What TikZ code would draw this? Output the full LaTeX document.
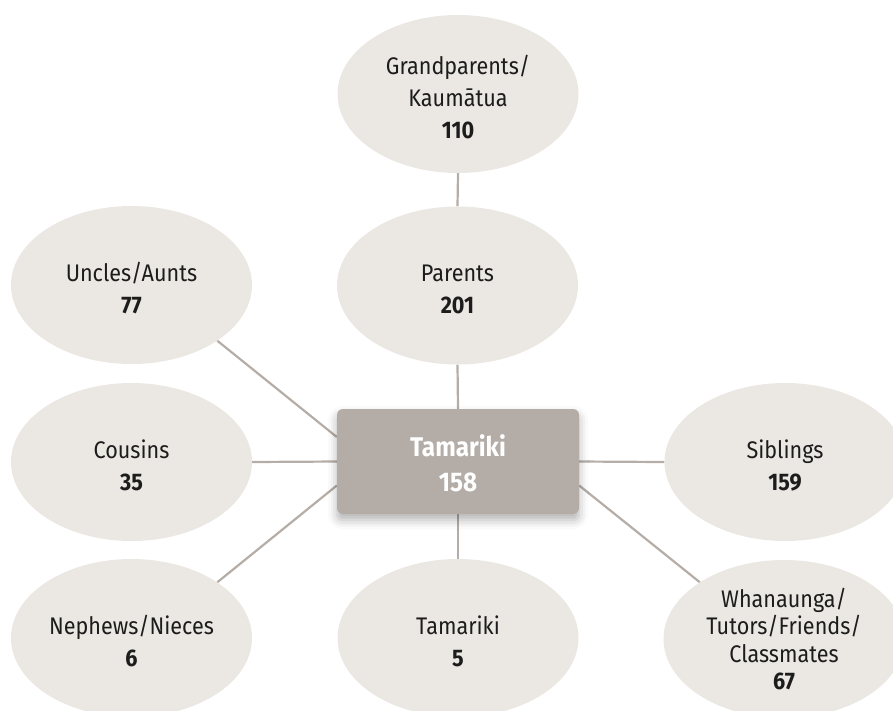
\documentclass[tikz,border=0pt]{standalone}
\usepackage{fontspec}
\setmainfont{Fira Sans}[FakeStretch=0.9]
\usetikzlibrary{shapes.geometric,shadows.blur,calc,backgrounds}

\definecolor{bubblefill}{HTML}{EBE7E2}
\definecolor{hubfill}{HTML}{B4ACA6}
\definecolor{linkcol}{HTML}{B5ADA7}
\definecolor{ink}{HTML}{1C1C1C}

% invisible strut on the first line, lowering the text block a little
\newcommand\ts{\rule{0pt}{25pt}}

\begin{document}
\begin{tikzpicture}[x=1pt,y=-1pt,
  bubble/.style={ellipse, fill=bubblefill, minimum width=241pt, minimum height=158pt,
    inner sep=0pt, align=center, text=ink,
    font=\fontsize{24}{32}\selectfont},
  hub/.style={rectangle, rounded corners=6pt, fill=hubfill, minimum width=242pt,
    minimum height=105pt, align=center, text=white,
    font=\fontsize{27}{35}\selectfont\bfseries,
    blur shadow={shadow xshift=0pt, shadow yshift=-6pt, shadow blur radius=9pt, shadow opacity=30}},
  link/.style={draw=linkcol, line width=2.2pt}]

\path[use as bounding box, clip] (0,0) rectangle (893,710);

% central box
\node[hub] (hub) at (458,461.5) {\ts Tamariki\\158};

% surrounding groups
\node[bubble] (gp)  at (458,94)    {\ts Grandparents/\\Kaumātua\\\textbf{110}};
\node[bubble] (par) at (457.5,285.5) {\ts Parents\\\textbf{201}};
\node[bubble] (ua)  at (131.5,285) {\ts Uncles/Aunts\\\textbf{77}};
\node[bubble] (cou) at (131.5,462) {\ts Cousins\\\textbf{35}};
\node[bubble] (nn)  at (131.5,638) {\ts Nephews/Nieces\\\textbf{6}};
\node[bubble] (tam) at (458,638)   {\ts Tamariki\\\textbf{5}};
\node[bubble] (sib) at (785,462)   {\ts Siblings\\\textbf{159}};
\node[bubble, font=\fontsize{24}{27.5}\selectfont] (wh) at (784,639)
  {Whanaunga/\\Tutors/Friends/\\Classmates\\\textbf{67}};

% connectors behind the shapes
\begin{scope}[on background layer]
  \draw[link] (gp.south) -- (par.north);
  \draw[link] (par.south) -- (hub.north);
  \draw[link] (hub.south) -- (tam.north);
  \draw[link] (cou.east) -- (hub.west);
  \draw[link] (hub.east) -- (sib.west);
  \draw[link] (ua.-33.7) -- ($(hub.west)+(0,-24.5)$);
  \draw[link] (nn.33.2) -- ($(hub.west)+(0,24)$);
  \draw[link] ($(hub.east)+(0,24)$) -- (wh.146.5);
\end{scope}
\end{tikzpicture}
\end{document}
